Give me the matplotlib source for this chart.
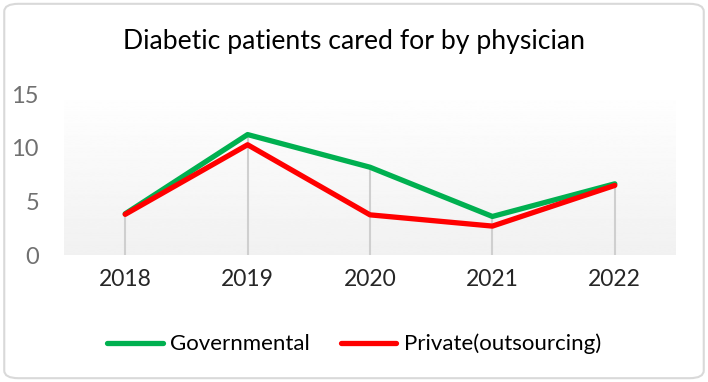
import numpy as np
import matplotlib
matplotlib.use("Agg")
import matplotlib.pyplot as plt
from matplotlib.patches import FancyBboxPatch

years = ["2018", "2019", "2020", "2021", "2022"]
governmental = [3.85, 11.25, 8.2, 3.6, 6.65]
private = [3.8, 10.3, 3.75, 2.7, 6.5]
y_ticks = [0, 5, 10, 15]

plt.rcParams["font.family"] = ["Lato", "DejaVu Sans"]

fig = plt.figure(figsize=(7.08, 3.82), dpi=100)
fig.patch.set_facecolor("white")

# rounded border round the whole chart
border = FancyBboxPatch((0.006, 0.01), 0.988, 0.98, boxstyle="round,pad=0,rounding_size=0.02",
                        transform=fig.transFigure, facecolor="none", edgecolor="#d9d9d9", linewidth=1.5)
fig.patches.append(border)

ax = fig.add_axes([64 / 708, 1 - 255 / 382, (676 - 64) / 708, (255 - 88) / 382])
x = np.arange(len(years))
ax.set_xlim(-0.5, len(years) - 0.5)
ax.set_ylim(0, 15.6)

# gradient background, white at top to light gray at bottom
grad = np.linspace(1.0, 0.945, 256).reshape(-1, 1)
ax.imshow(grad, extent=[-0.5, len(years) - 0.5, 0, 15.6], aspect="auto", cmap="gray",
          vmin=0, vmax=1, origin="upper", zorder=0)

# drop lines
tops = np.maximum(governmental, private)
ax.vlines(x, 0, tops, color="#cfcfcf", linewidth=1.5, zorder=1)

ax.plot(x, governmental, color="#00b050", linewidth=3.8, solid_capstyle="round", zorder=2,
        label="Governmental")
ax.plot(x, private, color="#ff0000", linewidth=3.8, solid_capstyle="round", zorder=3,
        label="Private(outsourcing)")

ax.set_xticks(x)
ax.set_xticklabels(years, fontsize=16.5, color="#262626")
ax.set_yticks(y_ticks)
ax.set_yticklabels([str(v) for v in y_ticks], fontsize=17, color="#707070")
ax.tick_params(axis="both", length=0)
ax.tick_params(axis="x", pad=10)
ax.tick_params(axis="y", pad=18)
for s in ax.spines.values():
    s.set_visible(False)

fig.text(0.5, 1 - 42 / 382, "Diabetic patients cared for by physician", ha="center", va="center",
         fontsize=19.2, color="#000000")

fig.legend(loc="center", bbox_to_anchor=(0.5, 1 - 344 / 382), ncol=2, frameon=False,
           fontsize=16, handlelength=2.5, columnspacing=1.4, handletextpad=0.33)

fig.savefig("out.png", dpi=100)
